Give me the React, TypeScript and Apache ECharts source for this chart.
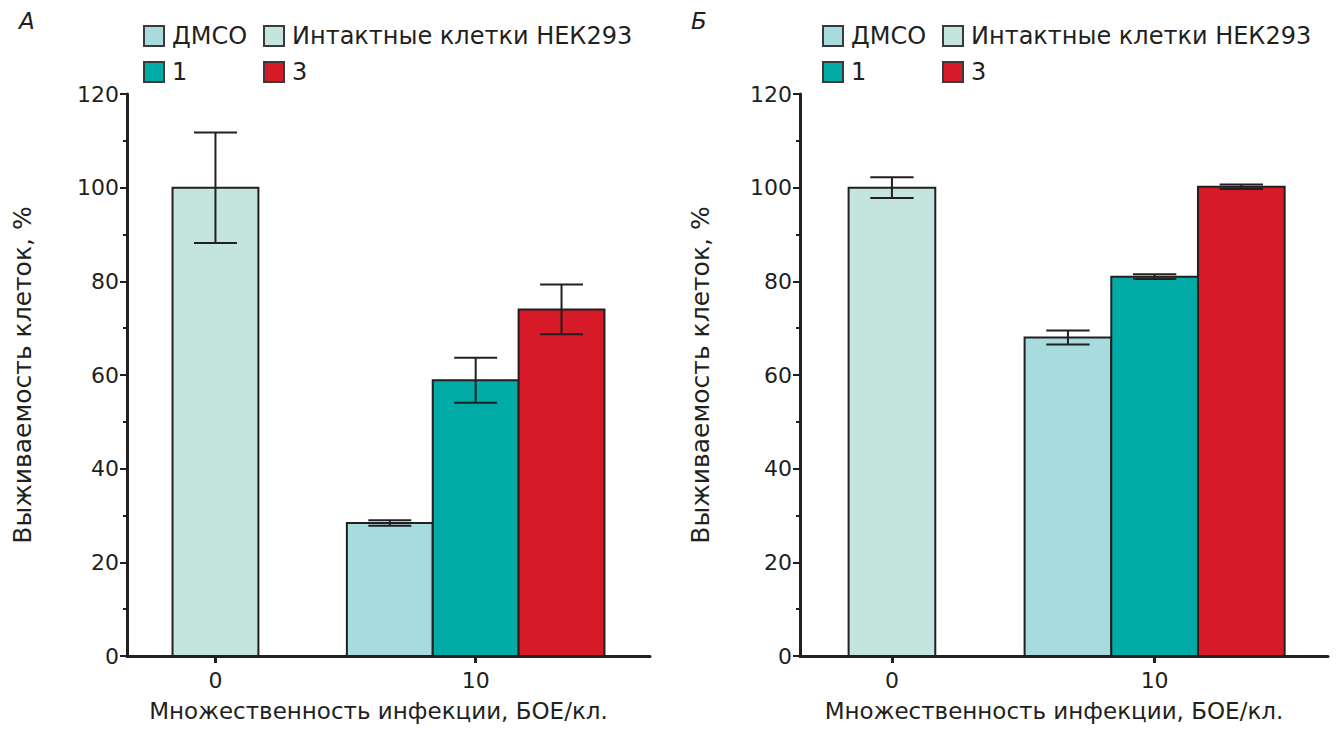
import React, { useEffect, useRef } from "react";
import * as echarts from "echarts";

// ---- data (x = multiplicity of infection, value = viability %, err = error) ----
const xTicks = [0, 10];
const yMax = 120;
const yStep = 20;
const seriesNames = ["ДМСО", "Интактные клетки НЕК293", "1", "3"];

// Panel А
const dmsoA = [[10, 28.4, 0.6]];
const intactA = [[0, 100.0, 11.8]];
const cmpd1A = [[10, 58.9, 4.8]];
const cmpd3A = [[10, 74.0, 5.3]];

// Panel Б
const dmsoB = [[10, 68.0, 1.5]];
const intactB = [[0, 100.0, 2.2]];
const cmpd1B = [[10, 81.0, 0.5]];
const cmpd3B = [[10, 100.2, 0.5]];

const panelTitles = ["А", "Б"];
const yAxisTitle = "Выживаемость клеток, %";
const xAxisTitle = "Множественность инфекции, БОЕ/кл.";

// ---- styles ----
const INK = "#231f20";
const FONT = "DejaVu Sans";
const colors: Record<string, string> = {
  "ДМСО": "#a8dbde",
  "Интактные клетки НЕК293": "#c3e5de",
  "1": "#00aca5",
  "3": "#d71a28",
};
// slot offset (in bar widths) of each series around its x value
const slots: Record<string, number> = {
  "ДМСО": -1,
  "Интактные клетки НЕК293": 0,
  "1": 0,
  "3": 1,
};
const BAR_W = 3.3; // in x units

function makeSeries(name: string, data: number[][], gi: number) {
  const color = colors[name];
  const slot = slots[name];
  return {
    type: "custom",
    name,
    xAxisIndex: gi,
    yAxisIndex: gi,
    itemStyle: { color, borderColor: INK, borderWidth: 2 },
    data,
    renderItem: (params: any, api: any) => {
      const x = api.value(0);
      const v = api.value(1);
      const e = api.value(2);
      const w = api.size([BAR_W, 0])[0];
      const base = api.coord([x, 0]);
      const top = api.coord([x, v]);
      const hi = api.coord([x, v + e]);
      const lo = api.coord([x, v - e]);
      const cx = base[0] + slot * w;
      const capHalf = w / 4;
      const ls = { stroke: INK, lineWidth: 2 };
      return {
        type: "group",
        children: [
          {
            type: "rect",
            shape: { x: cx - w / 2, y: top[1], width: w, height: base[1] - top[1] },
            style: { fill: color, stroke: INK, lineWidth: 2 },
          },
          { type: "line", shape: { x1: cx, y1: hi[1], x2: cx, y2: lo[1] }, style: ls },
          { type: "line", shape: { x1: cx - capHalf, y1: hi[1], x2: cx + capHalf, y2: hi[1] }, style: ls },
          { type: "line", shape: { x1: cx - capHalf, y1: lo[1], x2: cx + capHalf, y2: lo[1] }, style: ls },
        ],
      };
    },
  };
}

function legendItem(name: string, left: number, top: number) {
  return {
    left,
    top,
    padding: 0,
    itemWidth: 20,
    itemHeight: 20,
    icon: "rect",
    selectedMode: false,
    textStyle: { fontFamily: FONT, fontSize: 24, color: INK, padding: [0, 0, 0, 3] },
    data: [
      {
        name,
        icon: "rect",
        itemStyle: { color: colors[name], borderColor: "#3a3a3a", borderWidth: 2 },
      },
    ],
  };
}

function xAxis(gi: number, min: number, max: number) {
  return {
    type: "value",
    gridIndex: gi,
    min,
    max,
    splitLine: { show: false },
    axisLine: { show: true, onZero: false, lineStyle: { color: INK, width: 3 } },
    axisTick: { show: true, customValues: xTicks, length: 7, lineStyle: { color: INK, width: 3 } },
    axisLabel: { customValues: xTicks, fontFamily: FONT, fontSize: 22, color: INK, margin: 13 },
    name: xAxisTitle,
    nameLocation: "middle",
    nameGap: 43,
    nameTextStyle: { fontFamily: FONT, fontSize: 23, color: INK, padding: [0, 20, 0, 0] },
  };
}

function yAxis(gi: number, gap: number) {
  return {
    type: "value",
    gridIndex: gi,
    min: 0,
    max: yMax,
    interval: yStep,
    splitLine: { show: false },
    axisLine: { show: true, onZero: false, lineStyle: { color: INK, width: 3 } },
    axisTick: { show: true, length: 7, lineStyle: { color: INK, width: 2 } },
    minorTick: { show: true, splitNumber: 2, length: 4, lineStyle: { color: INK, width: 2 } },
    axisLabel: { fontFamily: FONT, fontSize: 22, color: INK, margin: 8 },
    name: yAxisTitle,
    nameLocation: "middle",
    nameGap: gap,
    nameTextStyle: { fontFamily: FONT, fontSize: 25, color: INK },
  };
}

export default function App() {
  const ref = useRef<HTMLDivElement>(null);
  useEffect(() => {
    if (!ref.current) return;
    const chart = echarts.init(ref.current, undefined, { renderer: "svg" });
    chart.setOption({
      animation: false,
      backgroundColor: "#ffffff",
      title: [
        { text: panelTitles[0], left: 14, top: 4, textStyle: { fontFamily: FONT, fontSize: 23, fontStyle: "italic", fontWeight: "normal", color: INK } },
        { text: panelTitles[1], left: 686, top: 4, textStyle: { fontFamily: FONT, fontSize: 23, fontStyle: "italic", fontWeight: "normal", color: INK } },
      ],
      legend: [
        legendItem(seriesNames[0], 143, 24),
        legendItem(seriesNames[1], 263, 24),
        legendItem(seriesNames[2], 143, 60),
        legendItem(seriesNames[3], 263, 60),
        legendItem(seriesNames[0], 822, 24),
        legendItem(seriesNames[1], 942, 24),
        legendItem(seriesNames[2], 822, 60),
        legendItem(seriesNames[3], 942, 60),
      ],
      grid: [
        { left: 127, top: 94, width: 523, height: 562, containLabel: false },
        { left: 800, top: 94, width: 528, height: 562, containLabel: false },
      ],
      xAxis: [xAxis(0, -3.4, 16.7), xAxis(1, -3.5, 16.6)],
      yAxis: [yAxis(0, 92), yAxis(1, 87)],
      series: [
        makeSeries(seriesNames[0], dmsoA, 0),
        makeSeries(seriesNames[1], intactA, 0),
        makeSeries(seriesNames[2], cmpd1A, 0),
        makeSeries(seriesNames[3], cmpd3A, 0),
        makeSeries(seriesNames[0], dmsoB, 1),
        makeSeries(seriesNames[1], intactB, 1),
        makeSeries(seriesNames[2], cmpd1B, 1),
        makeSeries(seriesNames[3], cmpd3B, 1),
      ],
    });
    return () => chart.dispose();
  }, []);
  return (
    <div
      ref={ref}
      style={{ position: "fixed", left: 0, top: 0, width: 1342, height: 735, background: "#fff" }}
    />
  );
}
